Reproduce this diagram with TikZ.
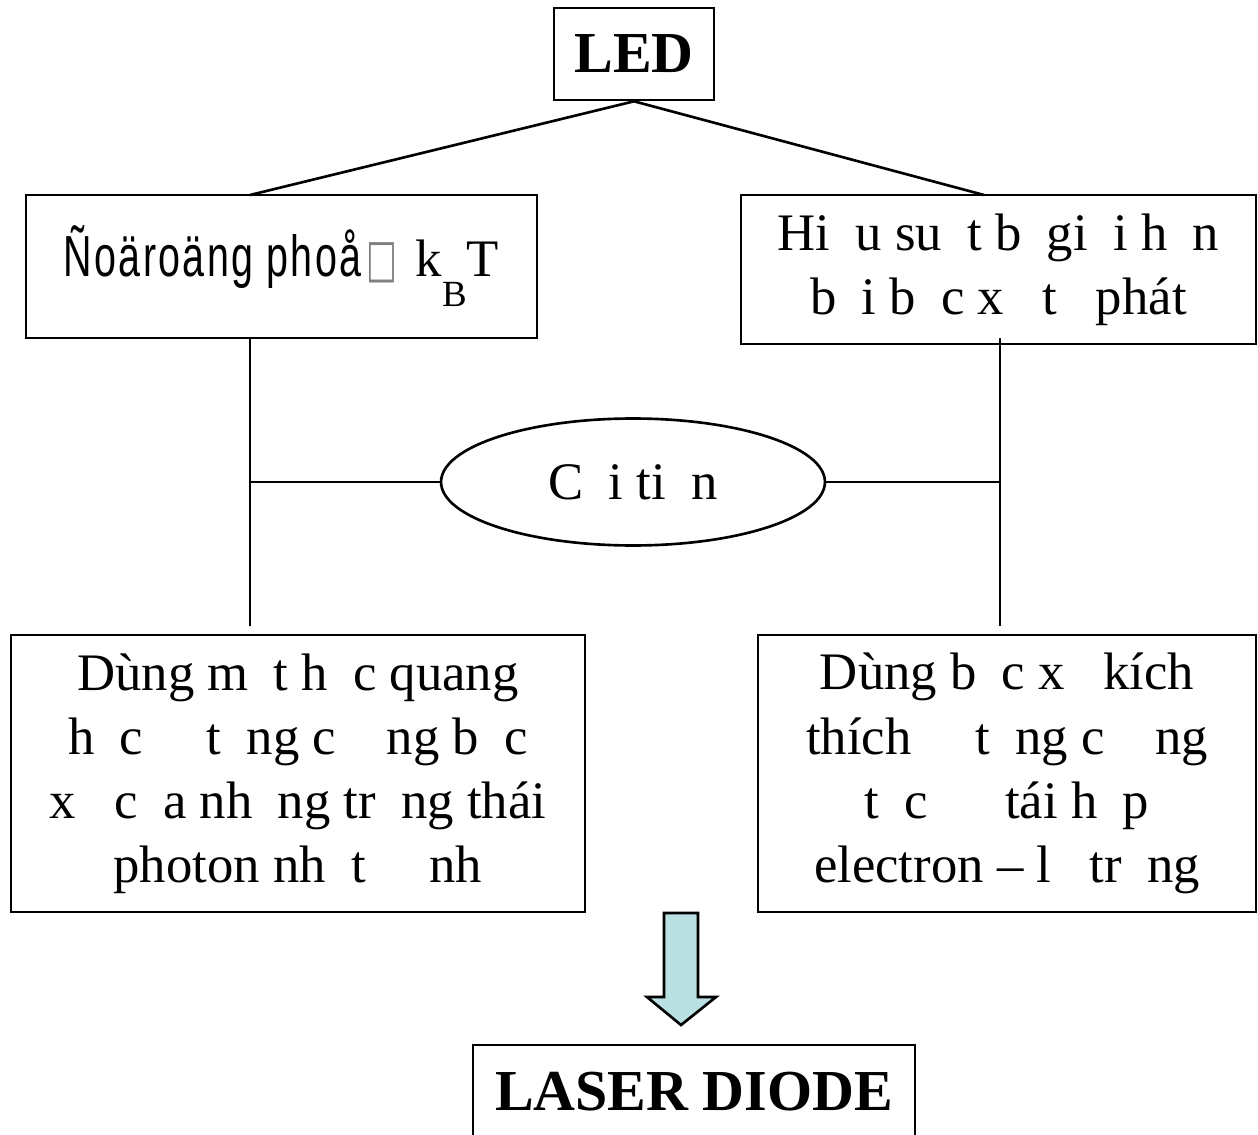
\documentclass[tikz,border=0pt]{standalone}
\usepackage{fontspec}
\setmainfont{Liberation Serif}
\newfontfamily\narrowsans[FakeStretch=0.68,LetterSpace=4]{Liberation Sans}
\newfontfamily\boxglyph[FakeStretch=0.62]{DejaVu Sans}
\usetikzlibrary{shapes.geometric,positioning}
\definecolor{arrowblue}{RGB}{185,225,228}
\newcommand{\mc}{\hspace{0.48em}}

\tikzset{
  box/.style={draw, line width=1.5pt, align=center, inner sep=0pt,
    font=\fontsize{30}{36.5}\selectfont},
  title/.style={box, font=\fontsize{33}{36}\selectfont\bfseries},
  link/.style={line width=1.5pt},
}

\begin{document}
\begin{tikzpicture}[x=0.02cm, y=-0.02cm]
    \useasboundingbox (0,0) rectangle (1258,1135);
    % top
    \node[title, minimum width=3.2cm, minimum height=1.84cm] (led) at (634,54) {LED};
    \node[box, minimum width=10.22cm, minimum height=2.86cm] (noise) at (281.5,266.5)
      {{\narrowsans\fontsize{33}{36}\selectfont Ñoäroäng phoå}\hspace{0.1em}{\boxglyph\fontsize{30}{30}\selectfont\color{gray}□}\hspace{0.35em}k\raisebox{-17pt}{\fontsize{21}{21}\selectfont B}T};
    \node[box, minimum width=10.3cm, minimum height=2.98cm] (limit) at (998.5,269.5)
      {Hi\mc u su\mc t b\mc gi\mc i h\mc n\\ b\mc i b\mc c x\mc{} t\mc{} phát};
    % middle
    \node[box, ellipse, minimum width=7.68cm, minimum height=2.54cm] (improve) at (633,482) {C\mc i ti\mc n};
    % bottom
    \node[box, minimum width=11.48cm, minimum height=5.54cm] (cavity) at (298,773.5)
      {Dùng m\mc t h\mc c quang\\ h\mc c \mc\mc t\mc ng c\mc\mc ng b\mc c\\
       x\mc{} c\mc a nh\mc ng tr\mc ng thái\\ photon nh\mc t \mc\mc nh};
    \node[box, minimum width=9.96cm, minimum height=5.54cm] (stimul) at (1007,773.5)
      {Dùng b\mc c x\mc{} kích\\ thích \mc\mc t\mc ng c\mc\mc ng\\
       t\mc c \mc\mc{} tái h\mc p\\ electron – l\mc{} tr\mc ng};
    \node[title, minimum width=8.84cm, minimum height=1.88cm] (laser) at (694,1092) {LASER DIODE};

    \coordinate (noisetop) at (250,195);
    \coordinate (limittop) at (984,195);
    \coordinate (lend) at (250,626);
    \coordinate (rstart) at (1000,338);
    \coordinate (rend) at (1000,626);

    \draw[link] (led.south) -- (noisetop);
    \draw[link] (led.south) -- (limittop);
    \draw[link] (noise.south -| lend) -- (lend);
    \draw[link] (rstart) -- (rend);
    \draw[link] (improve.west) -- (improve.west -| lend);
    \draw[link] (improve.east) -- (improve.east -| rend);

    % arrow to laser
    \draw[link, fill=arrowblue] (664,913) -- (698,913) -- (698,997) -- (716,997)
      -- (681,1025) -- (647,997) -- (664,997) -- cycle;
\end{tikzpicture}
\end{document}
